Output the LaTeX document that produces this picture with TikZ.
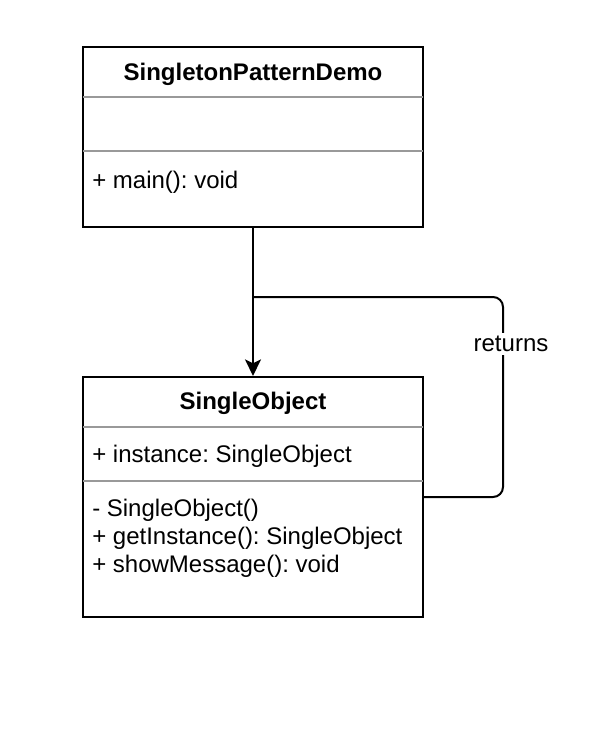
\documentclass[tikz,border=0pt]{standalone}
\usepackage{fontspec}
\setmainfont{Liberation Sans}
\usetikzlibrary{arrows.meta}
\frenchspacing
\definecolor{sepgray}{RGB}{153,153,153}
\tikzset{
  px/.style={x=0.75pt,y=-0.75pt},
  umlbox/.style={draw=black,line width=1.5pt,fill=white,rectangle,inner sep=0pt},
  sepline/.style={draw=sepgray,line width=1.5pt},
  title/.style={font=\fontsize{18}{21}\selectfont\bfseries\frenchspacing,anchor=base,inner sep=0pt},
  member/.style={font=\fontsize{18}{21}\selectfont\frenchspacing,anchor=base west,inner sep=0pt},
  conn/.style={draw=black,line width=1.5pt},
  lbl/.style={font=\fontsize{18}{21}\selectfont,fill=white,inner sep=2.5pt}
}
\begin{document}
\begin{tikzpicture}[px]
\useasboundingbox (0,0) rectangle (598,736);
% top class
\node[umlbox,minimum width=255pt,minimum height=135pt] (demo) at (253,137) {};
\node[title] (demoT) at (253,80) {SingletonPatternDemo};
\coordinate (d1l) at (83,97); \coordinate (d1r) at (423,97);
\coordinate (d2l) at (83,151); \coordinate (d2r) at (423,151);
\draw[sepline] (d1l) -- (d1r);
\draw[sepline] (d2l) -- (d2r);
\node[member] (demoM) at (92,188) {+ main(): void};
% bottom class
\node[umlbox,minimum width=255pt,minimum height=180pt] (obj) at (253,497) {};
\node[title] (objT) at (253,409) {SingleObject};
\coordinate (o1l) at (83,427); \coordinate (o1r) at (423,427);
\coordinate (o2l) at (83,481); \coordinate (o2r) at (423,481);
\draw[sepline] (o1l) -- (o1r);
\draw[sepline] (o2l) -- (o2r);
\node[member] (objA) at (92,462) {+ instance: SingleObject};
\node[member] (objM1) at (92,516) {- SingleObject()};
\node[member] (objM2) at (92,544) {+ getInstance(): SingleObject};
\node[member] (objM3) at (92,572) {+ showMessage(): void};
% connectors
\draw[conn,-{Stealth[length=12.5pt,width=12pt,inset=3pt]}] (demo.south) -- (obj.north);
\coordinate (rc) at (503,297);
\draw[conn,rounded corners=7.5pt] (obj.east) -| (rc) -- (demo.south |- rc);
\node[lbl] (ret) at (511,344) {returns};
\end{tikzpicture}
\end{document}
